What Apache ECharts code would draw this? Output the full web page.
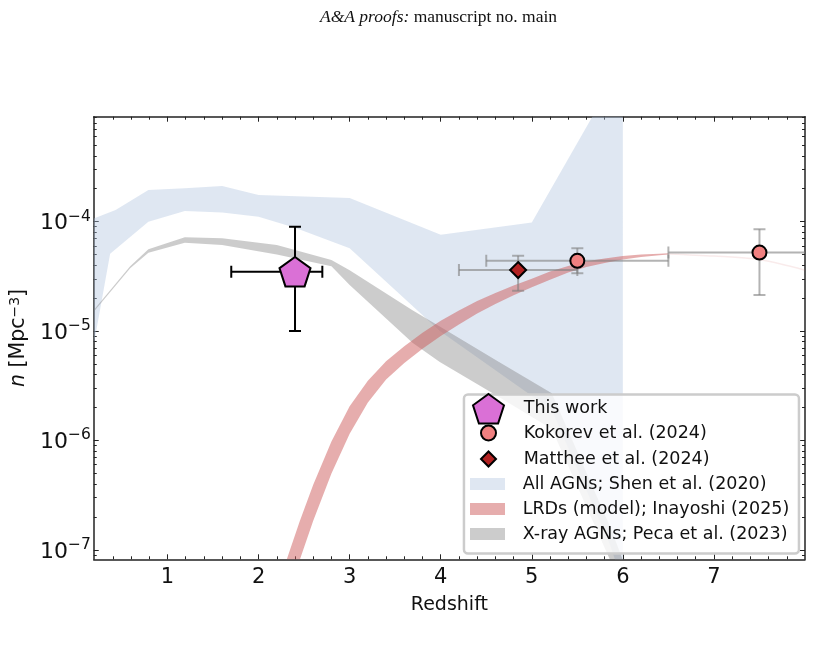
<!DOCTYPE html>
<html lang="en">
<head>
    <meta charset="UTF-8">
    <title>AGN number density vs redshift</title>
    <script src="https://cdn.jsdelivr.net/npm/echarts/dist/echarts.min.js"></script>
    <style>
        html, body { margin: 0; padding: 0; background: #fff; }
        #chart { width: 813px; height: 659px; }
    </style>
</head>
<body>
    <div id="chart"></div>

    <script>
        // Shen et al. (2020) band, all AGNs
        var shenUpperZ = [0.19, 0.43, 0.79, 1.19, 1.6, 2.0, 3.0, 4.0, 5.0, 6.0];
        var shenUpper  = [1.07e-4, 1.28e-4, 1.95e-4, 2.02e-4, 2.12e-4, 1.75e-4, 1.64e-4, 7.6e-5, 9.8e-5, 2.8e-3];
        var shenLowerZ = [0.19, 0.37, 0.79, 1.19, 1.6, 2.0, 2.4, 3.0, 3.99, 5.22, 5.86, 6.0];
        var shenLower  = [7.5e-6, 5.1e-5, 1.0e-4, 1.25e-4, 1.21e-4, 1.11e-4, 8.8e-5, 5.7e-5, 1.0e-5, 1.9e-6, 1.1e-7, 5e-8];

        // Peca et al. (2023) band, X-ray AGNs
        var pecaZ     = [0.19, 0.59, 0.79, 1.19, 1.6, 2.2, 2.8, 3.0, 3.69, 3.99, 4.64, 5.22, 5.86, 6.0];
        var pecaUpper = [1.56e-5, 3.9e-5, 5.6e-5, 7.2e-5, 7.05e-5, 6.1e-5, 4.46e-5, 3.6e-5, 1.55e-5, 1.1e-5, 5.2e-6, 2.7e-6, 1.63e-7, 8.1e-8];
        var pecaLower = [1.5e-5, 3.75e-5, 5.2e-5, 6.4e-5, 6.1e-5, 5.0e-5, 3.9e-5, 2.64e-5, 7.8e-6, 5.2e-6, 2.5e-6, 1.27e-6, 8.1e-8, 4.3e-8];

        // Inayoshi (2025) LRD model band + faint tail
        var lrdZ     = [2.28, 2.35, 2.45, 2.6, 2.8, 3.0, 3.2, 3.4, 3.6, 3.8, 4.0, 4.2, 4.4,
                        4.6, 4.8, 5.0, 5.2, 5.4, 5.6, 5.8, 6.0, 6.2, 6.4, 6.5];
        var lrdUpper = [6.9e-8, 1.03e-7, 1.81e-7, 3.94e-7, 9.8e-7, 2.05e-6, 3.52e-6, 5.3e-6, 7.28e-6, 9.66e-6, 1.245e-5, 1.54e-5, 1.88e-5,
                        2.23e-5, 2.61e-5, 3.01e-5, 3.5e-5, 3.94e-5, 4.35e-5, 4.61e-5, 4.85e-5, 5.0e-5, 5.1e-5, 5.13e-5];
        var lrdLower = [2.9e-8, 4.4e-8, 8.0e-8, 1.85e-7, 5.0e-7, 1.15e-6, 2.22e-6, 3.6e-6, 5.1e-6, 6.9e-6, 9.0e-6, 1.15e-5, 1.45e-5,
                        1.77e-5, 2.12e-5, 2.52e-5, 2.95e-5, 3.42e-5, 3.85e-5, 4.19e-5, 4.51e-5, 4.75e-5, 4.94e-5, 5.01e-5];
        var lrdTailZ = [6.5, 7.0, 7.5, 8.0];
        var lrdTail  = [5.07e-5, 4.85e-5, 4.5e-5, 3.6e-5];

        // points: [z, n, zLo, zHi, nLo, nHi]
        var thisWork = [[2.4, 3.49e-5, 1.7, 2.7, 1.0e-5, 9.0e-5]];
        var kokorev  = [[5.5, 4.38e-5, 4.5, 6.5, 3.37e-5, 5.71e-5],
                        [7.5, 5.21e-5, 6.5, 8.5, 2.14e-5, 8.5e-5]];
        var matthee  = [[4.85, 3.61e-5, 4.2, 5.5, 2.33e-5, 4.89e-5]];

        var xTicks = [1, 2, 3, 4, 5, 6, 7];
        var yTicks = [1e-7, 1e-6, 1e-5, 1e-4];

        var xMinor = [];
        for (var t = 2; t <= 40; t++) { if (t % 5 !== 0) xMinor.push(t / 5); }
        var yMinor = [];
        for (var d = -8; d <= -4; d++) {
            for (var k = 2; k <= 9; k++) yMinor.push(k * Math.pow(10, d));
        }

        var cShen = 'rgba(176,196,222,0.4)';
        var cPeca = 'rgba(128,128,128,0.4)';
        var cLrd = 'rgba(205,92,92,0.5)';
        var pent = 'path://M0,-1L0.951,-0.309L0.588,0.809L-0.588,0.809L-0.951,-0.309Z';

        var chart = echarts.init(document.getElementById('chart'));

        function clipOf(params) {
            var c = params.coordSys;
            return { type: 'rect', shape: { x: c.x, y: c.y, width: c.width, height: c.height } };
        }

        function band(name, zU, nU, zL, nL, color, z) {
            return {
                name: name, type: 'custom', z: z,
                itemStyle: { color: color },
                data: [[zU[0], nU[0]]],
                renderItem: function (params, api) {
                    var pts = [];
                    for (var i = 0; i < zU.length; i++) pts.push(api.coord([zU[i], nU[i]]));
                    for (var j = zL.length - 1; j >= 0; j--) pts.push(api.coord([zL[j], nL[j]]));
                    return { type: 'polygon', shape: { points: pts }, style: { fill: color }, clipPath: clipOf(params) };
                }
            };
        }

        function errBars(data, color, width, cap, z) {
            return {
                type: 'custom', z: z, data: data,
                renderItem: function (params, api) {
                    var x = api.value(0), y = api.value(1);
                    var a = api.coord([api.value(2), y]), b = api.coord([api.value(3), y]);
                    var lo = api.coord([x, api.value(4)]), hi = api.coord([x, api.value(5)]);
                    var st = { stroke: color, lineWidth: width };
                    function ln(x1, y1, x2, y2) {
                        return { type: 'line', shape: { x1: x1, y1: y1, x2: x2, y2: y2 }, style: st };
                    }
                    return {
                        type: 'group', clipPath: clipOf(params),
                        children: [
                            ln(a[0], a[1], b[0], b[1]),
                            ln(a[0], a[1] - cap, a[0], a[1] + cap),
                            ln(b[0], b[1] - cap, b[0], b[1] + cap),
                            ln(lo[0], lo[1], hi[0], hi[1]),
                            ln(lo[0] - cap, lo[1], lo[0] + cap, lo[1]),
                            ln(hi[0] - cap, hi[1], hi[0] + cap, hi[1])
                        ]
                    };
                }
            };
        }

        var axisCol = '#222';
        function xAx(pos, vals, len, showLine, label) {
            return {
                type: 'value', min: 0.19, max: 8, position: pos,
                axisLine: { show: showLine, onZero: false, lineStyle: { color: axisCol, width: 1.5 } },
                axisTick: { inside: true, length: len, customValues: vals, lineStyle: { color: axisCol, width: 1 } },
                axisLabel: label ? { customValues: vals, fontSize: 21, color: '#111', margin: 8 } : { show: false },
                splitLine: { show: false }
            };
        }
        function yAx(pos, vals, len, showLine, label) {
            return {
                type: 'log', logBase: 10, min: 8.2e-8, max: 9.1e-4, position: pos,
                axisLine: { show: showLine, onZero: false, lineStyle: { color: axisCol, width: 1.5 } },
                axisTick: { inside: true, length: len, customValues: vals, lineStyle: { color: axisCol, width: 1 } },
                axisLabel: label ? {
                    customValues: vals, margin: 3, color: '#111',
                    formatter: function (v) {
                        var e = Math.round(Math.log(v) / Math.LN10);
                        return '{b|10}{s|\u2212' + (-e) + '}';
                    },
                    rich: {
                        b: { fontSize: 22, lineHeight: 26, padding: [4, 0, 0, 0], color: '#111' },
                        s: { fontSize: 15.5, lineHeight: 16, verticalAlign: 'top', color: '#111' }
                    }
                } : { show: false },
                splitLine: { show: false }
            };
        }

        var xMain = xAx('bottom', xTicks, 5, true, true);
        xMain.name = 'Redshift';
        xMain.nameLocation = 'middle';
        xMain.nameGap = 36;
        xMain.nameTextStyle = { fontSize: 19, color: '#111' };

        var yMain = yAx('left', yTicks, 5, true, true);
        yMain.name = '{i|n} [Mpc{s|\u22123}]';
        yMain.nameLocation = 'middle';
        yMain.nameGap = 63;
        yMain.nameTextStyle = {
            fontSize: 20.5, color: '#111',
            rich: {
                i: { fontSize: 20.5, fontStyle: 'italic', color: '#111' },
                s: { fontSize: 14, verticalAlign: 'top', lineHeight: 14, color: '#111' }
            }
        };

        function legendText(gap) {
            return { fontSize: 17.5, lineHeight: 20, color: '#111', padding: [0, 0, 0, gap] };
        }

        var option = {
            animation: false,
            textStyle: { fontFamily: 'DejaVu Sans' },
            title: {
                text: '{i|A&A proofs:} manuscript no. main',
                left: 315, top: 3,
                textStyle: {
                    fontFamily: 'Liberation Serif', fontSize: 17.5, fontWeight: 'normal', color: '#111',
                    rich: { i: { fontFamily: 'Liberation Serif', fontSize: 17.5, fontStyle: 'italic', color: '#111' } }
                }
            },
            grid: { left: 93.3, right: 8, top: 116.7, bottom: 99.7 },
            xAxis: [
                xMain,
                xAx('top', xTicks, 5, true, false),
                xAx('bottom', xMinor, 3, false, false),
                xAx('top', xMinor, 3, false, false)
            ],
            yAxis: [
                yMain,
                yAx('right', yTicks, 5, true, false),
                yAx('left', yMinor, 3, false, false),
                yAx('right', yMinor, 3, false, false)
            ],
            graphic: [{
                type: 'rect', left: 462.7, top: 393.3, z: 10,
                shape: { width: 335, height: 159, r: 4 },
                style: { fill: 'rgba(255,255,255,0.8)', stroke: '#cccccc', lineWidth: 2.5 }
            }],
            legend: [
                {
                    z: 12, orient: 'vertical', left: 472, top: 393, padding: 0, selectedMode: false,
                    itemWidth: 31, itemHeight: 29.5, itemGap: 0, textStyle: legendText(14.7),
                    data: [{ name: 'This work', icon: pent, itemStyle: { color: '#da70d6', borderColor: '#000', borderWidth: 2 } }]
                },
                {
                    z: 12, orient: 'vertical', left: 480, top: 423, padding: 0, selectedMode: false,
                    itemWidth: 15, itemHeight: 15, itemGap: 6, textStyle: legendText(22.7),
                    data: [
                        { name: 'Kokorev et al. (2024)', icon: 'circle', itemStyle: { color: '#f08080', borderColor: '#000', borderWidth: 2 } },
                        { name: 'Matthee et al. (2024)', icon: 'diamond', itemStyle: { color: '#b22222', borderColor: '#000', borderWidth: 2 } }
                    ]
                },
                {
                    z: 12, orient: 'vertical', left: 470, top: 474, padding: 0, selectedMode: false,
                    itemWidth: 35, itemHeight: 12, itemGap: 5, textStyle: legendText(12.7),
                    data: [
                        { name: 'All AGNs; Shen et al. (2020)', icon: 'rect', itemStyle: { color: cShen, borderWidth: 0 } },
                        { name: 'LRDs (model); Inayoshi (2025)', icon: 'rect', itemStyle: { color: cLrd, borderWidth: 0 } },
                        { name: 'X-ray AGNs; Peca et al. (2023)', icon: 'rect', itemStyle: { color: cPeca, borderWidth: 0 } }
                    ]
                }
            ],
            series: [
                band('All AGNs; Shen et al. (2020)', shenUpperZ, shenUpper, shenLowerZ, shenLower, cShen, 1),
                band('X-ray AGNs; Peca et al. (2023)', pecaZ, pecaUpper, pecaZ, pecaLower, cPeca, 2),
                band('LRDs (model); Inayoshi (2025)', lrdZ, lrdUpper, lrdZ, lrdLower, cLrd, 3),
                {
                    type: 'custom', z: 3, data: [[lrdTailZ[0], lrdTail[0]]],
                    renderItem: function (params, api) {
                        var pts = [];
                        for (var i = 0; i < lrdTailZ.length; i++) pts.push(api.coord([lrdTailZ[i], lrdTail[i]]));
                        return { type: 'polyline', shape: { points: pts, smooth: 0.3 }, style: { stroke: 'rgba(205,92,92,0.12)', lineWidth: 1.5, fill: null }, clipPath: clipOf(params) };
                    }
                },
                errBars(kokorev, 'rgba(128,128,128,0.6)', 2, 6, 4),
                errBars(matthee, 'rgba(128,128,128,0.6)', 2, 6, 4),
                errBars(thisWork, '#000', 2, 6, 4),
                {
                    name: 'Matthee et al. (2024)', type: 'scatter', z: 5,
                    symbol: 'diamond', symbolSize: 16,
                    itemStyle: { color: '#b22222', borderColor: '#000', borderWidth: 2, opacity: 1 },
                    data: matthee.map(function (p) { return [p[0], p[1]]; })
                },
                {
                    name: 'Kokorev et al. (2024)', type: 'scatter', z: 5,
                    symbol: 'circle', symbolSize: 14,
                    itemStyle: { color: '#f08080', borderColor: '#000', borderWidth: 2, opacity: 1 },
                    data: kokorev.map(function (p) { return [p[0], p[1]]; })
                },
                {
                    name: 'This work', type: 'scatter', z: 5,
                    symbol: pent, symbolSize: [31, 29.5],
                    itemStyle: { color: '#da70d6', borderColor: '#000', borderWidth: 2, opacity: 1 },
                    data: thisWork.map(function (p) { return [p[0], p[1]]; })
                }
            ]
        };

        chart.setOption(option);
    </script>
</body>
</html>
